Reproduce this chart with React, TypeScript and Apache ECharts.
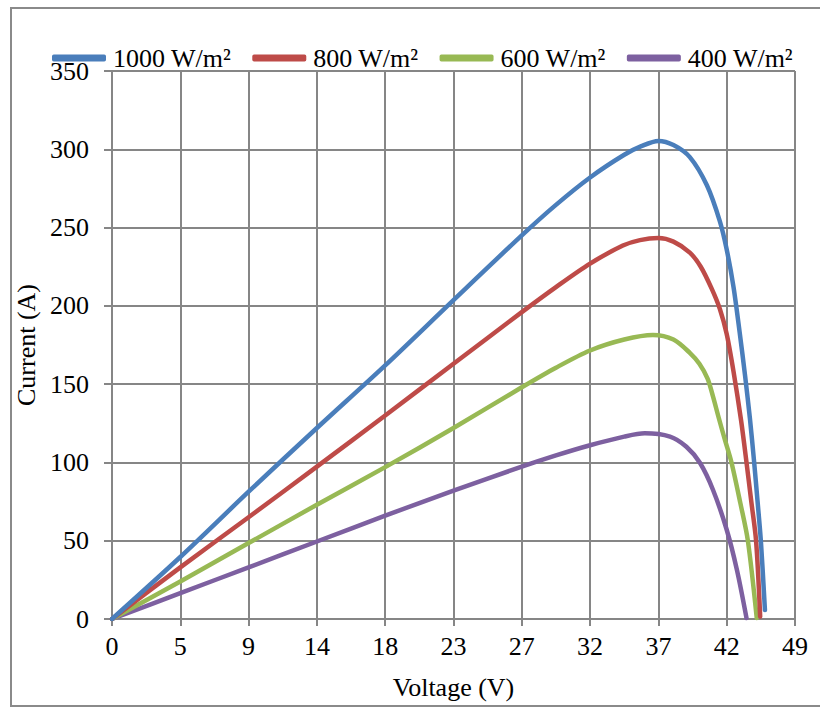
import React, { useEffect, useRef } from "react";
import * as echarts from "echarts";

// x values are positions along the voltage axis, in tick-index units (tick i carries tickLabels[i])
const tickLabels = ["0", "5", "9", "14", "18", "23", "27", "32", "37", "42", "49"];
const yTicks = [0, 50, 100, 150, 200, 250, 300, 350];

const seriesNames = ["1000 W/m²", "800 W/m²", "600 W/m²", "400 W/m²"];
const seriesColors = ["#4A7EBB", "#BE4B48", "#98B954", "#7D60A0"];

const blue: [number, number][] = [
  [0, 0], [1, 39.6], [2, 81.3], [3, 122], [4, 162], [5, 203.7], [6, 245], [6.5, 264.5],
  [7, 282], [7.5, 296.5], [7.75, 302], [8.0, 305.3], [8.22, 302.7], [8.46, 295], [8.71, 277],
  [8.9, 254], [9.0, 236], [9.1, 212], [9.19, 183], [9.27, 155], [9.34, 128], [9.4, 101],
  [9.45, 76], [9.5, 50], [9.56, 5.7],
];
const red: [number, number][] = [
  [0, 0], [1, 33], [2, 65], [3, 97.3], [4, 130], [5, 163], [6, 196], [6.5, 212], [7, 227],
  [7.48, 238.5], [7.73, 242], [8.0, 243.3], [8.22, 241], [8.46, 234], [8.62, 225], [8.78, 211],
  [8.9, 198], [9.0, 182], [9.1, 158], [9.21, 127], [9.29, 100], [9.36, 75], [9.43, 50], [9.49, 1.5],
];
const green: [number, number][] = [
  [0, 0], [1, 24], [2, 48.5], [3, 73], [4, 97], [5, 122], [6, 148], [6.5, 160.5], [7, 171.5],
  [7.5, 178.5], [7.92, 181.4], [8.22, 178.5], [8.46, 170], [8.6, 163], [8.72, 153.5],
  [8.8, 142], [8.88, 129], [8.97, 115], [9.07, 100], [9.2, 74], [9.31, 50], [9.44, 0.6],
];
const purple: [number, number][] = [
  [0, 0], [1, 16.5], [2, 33], [3, 49.5], [4, 66], [5, 82], [6, 97.3], [6.5, 104.5], [7, 111],
  [7.5, 116.5], [7.8, 118.6], [8.17, 116.5], [8.41, 110], [8.61, 99.6], [8.8, 82.4],
  [9.0, 57], [9.15, 31.3], [9.29, 0.6],
];
const seriesData = [blue, red, green, purple];

const FONT = "'Liberation Serif', 'Times New Roman', serif";
const GRID = "#868686";

export default function App() {
  const ref = useRef<HTMLDivElement>(null);
  useEffect(() => {
    if (!ref.current) return;
    const chart = echarts.init(ref.current, null, { renderer: "svg" });
    chart.setOption({
      animation: false,
      backgroundColor: "#ffffff",
      textStyle: { fontFamily: FONT },
      graphic: [
        {
          type: "rect",
          shape: { x: 11, y: 8, width: 820, height: 698 },
          style: { fill: "none", stroke: "#8a8a8a", lineWidth: 2 },
          silent: true,
        },
      ],
      legend: {
        left: 47,
        top: 40,
        itemWidth: 54,
        itemHeight: 7,
        itemGap: 21,
        icon: "roundRect",
        textStyle: { fontFamily: FONT, fontSize: 26, color: "#000", padding: [0, 0, 0, 2] },
        data: seriesNames,
      },
      grid: { left: 112, right: 25, top: 71, bottom: 89, containLabel: false },
      xAxis: {
        type: "value",
        min: 0,
        max: tickLabels.length - 1,
        interval: 1,
        name: "Voltage (V)",
        nameLocation: "middle",
        nameGap: 55,
        nameTextStyle: { fontFamily: FONT, fontSize: 26, color: "#000" },
        axisLine: { show: true, lineStyle: { color: GRID, width: 2 } },
        axisTick: { show: true, length: 7, lineStyle: { color: GRID, width: 2 } },
        axisLabel: {
          margin: 14,
          fontFamily: FONT,
          fontSize: 26,
          color: "#000",
          formatter: (v: number) => tickLabels[Math.round(v)] ?? "",
        },
        splitLine: { show: true, lineStyle: { color: GRID, width: 2 } },
      },
      yAxis: {
        type: "value",
        min: yTicks[0],
        max: yTicks[yTicks.length - 1],
        interval: 50,
        name: "Current (A)",
        nameLocation: "middle",
        nameGap: 68,
        nameTextStyle: { fontFamily: FONT, fontSize: 26, color: "#000" },
        axisLine: { show: true, lineStyle: { color: GRID, width: 2 } },
        axisTick: { show: true, length: 8, lineStyle: { color: GRID, width: 2 } },
        axisLabel: { margin: 23, fontFamily: FONT, fontSize: 26, color: "#000" },
        splitLine: { show: true, lineStyle: { color: GRID, width: 2 } },
      },
      series: seriesNames.map((name, i) => ({
        name,
        type: "line",
        data: seriesData[i],
        showSymbol: false,
        symbol: "none",
        smooth: 0.3,
        color: seriesColors[i],
        lineStyle: { color: seriesColors[i], width: 4.5, cap: "round", join: "round" },
        itemStyle: { color: seriesColors[i] },
        z: 10 - i,
      })),
    });
    return () => chart.dispose();
  }, []);
  return (
    <div
      ref={ref}
      style={{ position: "fixed", left: 0, top: 0, width: 820, height: 708 }}
    />
  );
}
